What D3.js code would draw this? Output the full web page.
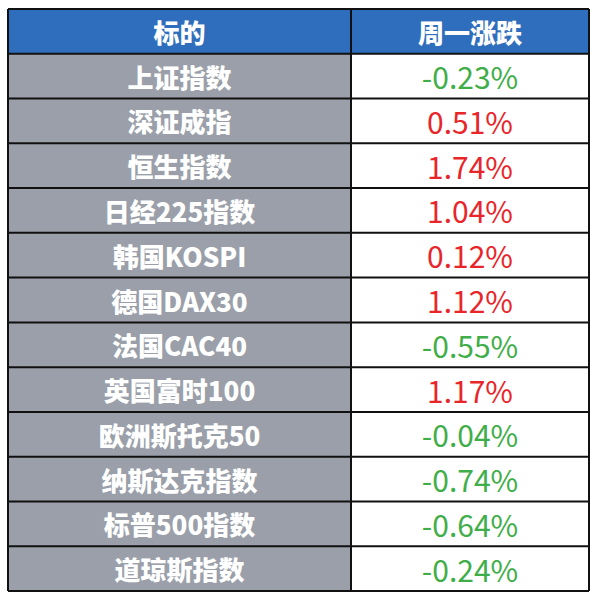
<!DOCTYPE html>
<html><head><meta charset="utf-8">
<script src="https://cdn.jsdelivr.net/npm/d3@7"></script>
<style>body{margin:0;background:#fff}</style>
</head><body>
<script>
var headers = ["标的", "周一涨跌"];
var names = ["上证指数","深证成指","恒生指数","日经225指数","韩国KOSPI","德国DAX30","法国CAC40","英国富时100","欧洲斯托克50","纳斯达克指数","标普500指数","道琼斯指数"];
var changes = [-0.23, 0.51, 1.74, 1.04, 0.12, 1.12, -0.55, 1.17, -0.04, -0.74, -0.64, -0.24];

var W = 600, H = 607;
var svg = d3.select("body").append("svg").attr("width", W).attr("height", H);
var font = "'Noto Sans CJK SC', 'Noto Sans', sans-serif";

var x = d3.scaleOrdinal().domain([0, 1, 2]).range([8, 351, 589]);
var y = d3.scaleBand().domain(d3.range(names.length + 1)).range([9, 591]);

// header
svg.append("rect").attr("x", x(0)).attr("y", y(0)).attr("width", x(2) - x(0)).attr("height", y.bandwidth()).attr("fill", "#2f6ebc");
headers.forEach(function(h, i) {
    svg.append("text").attr("x", (x(i) + x(i + 1)) / 2).attr("y", y(0) + y.bandwidth() / 2)
        .attr("text-anchor", "middle").attr("dominant-baseline", "central")
        .attr("font-family", font).attr("font-weight", 900).attr("font-size", 26).attr("fill", "#fff").text(h);
});

var rows = svg.selectAll("g.row").data(names).enter().append("g").attr("class", "row");
rows.append("rect").attr("x", x(0)).attr("y", function(d, i) { return y(i + 1); })
    .attr("width", x(1) - x(0)).attr("height", y.bandwidth()).attr("fill", "#9a9fa9");
rows.append("rect").attr("x", x(1)).attr("y", function(d, i) { return y(i + 1); })
    .attr("width", x(2) - x(1)).attr("height", y.bandwidth()).attr("fill", "#fff");
rows.append("text").attr("x", (x(0) + x(1)) / 2).attr("y", function(d, i) { return y(i + 1) + y.bandwidth() / 2; })
    .attr("text-anchor", "middle").attr("dominant-baseline", "central")
    .attr("font-family", font).attr("font-weight", 900).attr("font-size", 26).attr("fill", "#fff")
    .text(function(d) { return d; });
rows.append("text").attr("x", (x(1) + x(2)) / 2).attr("y", function(d, i) { return y(i + 1) + y.bandwidth() / 2; })
    .attr("text-anchor", "middle").attr("dominant-baseline", "central")
    .attr("font-family", font).attr("font-size", 30)
    .attr("fill", function(d, i) { return changes[i] < 0 ? "#3fae49" : "#e8262a"; })
    .text(function(d, i) { return changes[i].toFixed(2) + "%"; });

// grid lines
d3.range(names.length + 2).forEach(function(i) {
    var yy = i <= names.length ? y(i) : y(names.length) + y.bandwidth();
    svg.append("line").attr("x1", x(0)).attr("x2", x(2)).attr("y1", yy).attr("y2", yy).attr("stroke", "#111").attr("stroke-width", 2);
});
[0, 1, 2].forEach(function(i) {
    svg.append("line").attr("x1", x(i)).attr("x2", x(i)).attr("y1", y(0)).attr("y2", 591).attr("stroke", "#111").attr("stroke-width", 2);
});
</script>
</body></html>
